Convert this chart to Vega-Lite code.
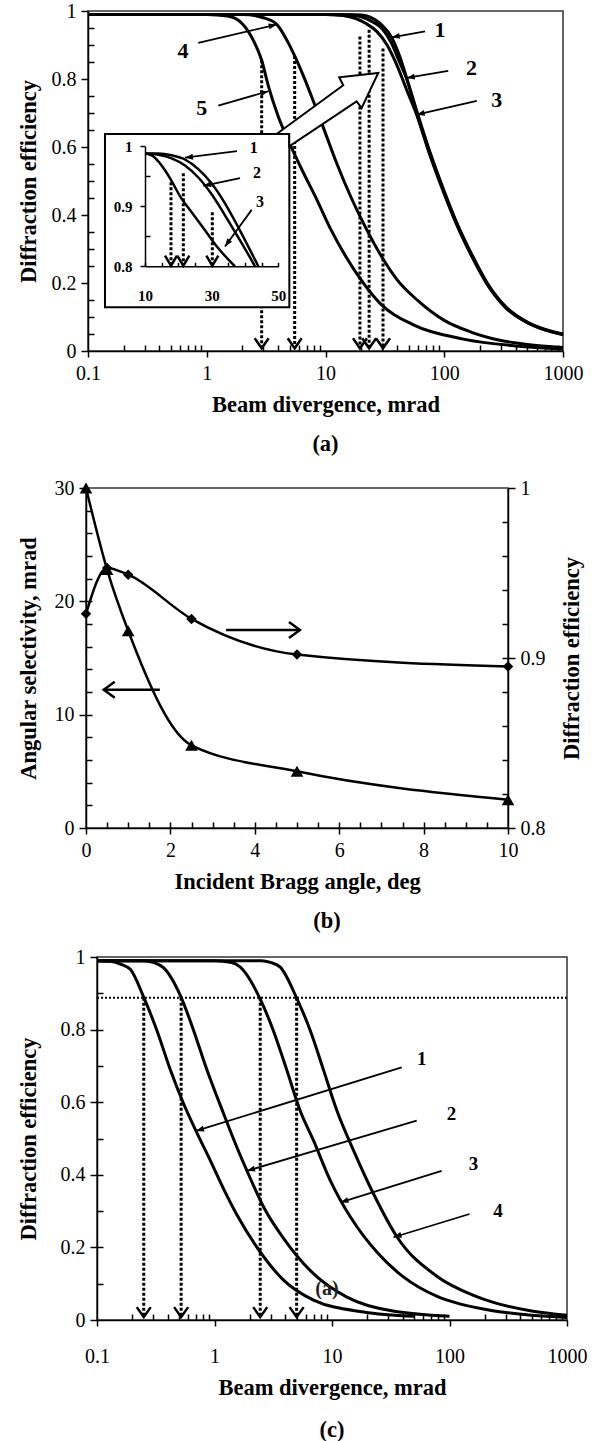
{
  "$schema": "https://vega.github.io/schema/vega-lite/v6.json",
  "padding": {"left": 9, "top": 0, "right": 5, "bottom": 5},
  "spacing": 10,
  "config": {
    "font": "Liberation Serif",
    "view": {"stroke": "#333", "strokeWidth": 1.5},
    "axis": {"labelFont": "Liberation Serif", "labelFontSize": 20, "labelColor": "black", "titleFont": "Liberation Serif", "titleFontSize": 22.5, "titleFontWeight": "bold", "titleColor": "black", "domainColor": "black", "domainWidth": 1.5, "tickColor": "black", "tickWidth": 1.5, "grid": false, "labelFlush": false, "labelOverlap": false},
    "title": {"font": "Liberation Serif", "fontSize": 22.5, "fontWeight": "bold", "color": "black"}
  },
  "datasets": {
    "a_curves": [
      {"c":"1","x":0.1,"y":0.99},{"c":"1","x":10,"y":0.99},{"c":"1","x":18,"y":0.989},{"c":"1","x":22,"y":0.986},{"c":"1","x":26,"y":0.975},{"c":"1","x":30,"y":0.958},{"c":"1","x":36,"y":0.923},{"c":"1","x":42,"y":0.868},{"c":"1","x":50,"y":0.785},{"c":"1","x":60,"y":0.695},{"c":"1","x":75,"y":0.59},{"c":"1","x":100,"y":0.47},{"c":"1","x":130,"y":0.37},{"c":"1","x":170,"y":0.285},{"c":"1","x":230,"y":0.2},{"c":"1","x":330,"y":0.13},{"c":"1","x":500,"y":0.085},{"c":"1","x":700,"y":0.064},{"c":"1","x":1000,"y":0.05},
      {"c":"2","x":0.1,"y":0.99},{"c":"2","x":10,"y":0.99},{"c":"2","x":16,"y":0.988},{"c":"2","x":20,"y":0.983},{"c":"2","x":25,"y":0.968},{"c":"2","x":30,"y":0.948},{"c":"2","x":36,"y":0.905},{"c":"2","x":42,"y":0.85},{"c":"2","x":48.3,"y":0.8},{"c":"2","x":58,"y":0.705},{"c":"2","x":75,"y":0.585},{"c":"2","x":100,"y":0.465},{"c":"2","x":130,"y":0.367},{"c":"2","x":170,"y":0.282},{"c":"2","x":230,"y":0.198},{"c":"2","x":330,"y":0.128},{"c":"2","x":500,"y":0.084},{"c":"2","x":700,"y":0.063},{"c":"2","x":1000,"y":0.049},
      {"c":"3","x":0.1,"y":0.99},{"c":"3","x":10,"y":0.99},{"c":"3","x":14,"y":0.987},{"c":"3","x":18,"y":0.978},{"c":"3","x":22,"y":0.963},{"c":"3","x":27,"y":0.94},{"c":"3","x":33,"y":0.9},{"c":"3","x":40,"y":0.84},{"c":"3","x":48,"y":0.77},{"c":"3","x":58.6,"y":0.695},{"c":"3","x":75,"y":0.58},{"c":"3","x":100,"y":0.462},{"c":"3","x":130,"y":0.364},{"c":"3","x":170,"y":0.279},{"c":"3","x":230,"y":0.196},{"c":"3","x":330,"y":0.127},{"c":"3","x":500,"y":0.083},{"c":"3","x":700,"y":0.062},{"c":"3","x":1000,"y":0.048},
      {"c":"4","x":0.1,"y":0.99},{"c":"4","x":2,"y":0.99},{"c":"4","x":3,"y":0.98},{"c":"4","x":3.9,"y":0.96},{"c":"4","x":4.8,"y":0.91},{"c":"4","x":5.5,"y":0.868},{"c":"4","x":6.5,"y":0.81},{"c":"4","x":8,"y":0.73},{"c":"4","x":10,"y":0.64},{"c":"4","x":12.5,"y":0.55},{"c":"4","x":16.5,"y":0.45},{"c":"4","x":22,"y":0.36},{"c":"4","x":30,"y":0.275},{"c":"4","x":40,"y":0.21},{"c":"4","x":60,"y":0.148},{"c":"4","x":100,"y":0.09},{"c":"4","x":170,"y":0.055},{"c":"4","x":300,"y":0.031},{"c":"4","x":500,"y":0.019},{"c":"4","x":1000,"y":0.01},
      {"c":"5","x":0.1,"y":0.99},{"c":"5","x":1,"y":0.99},{"c":"5","x":1.5,"y":0.985},{"c":"5","x":2,"y":0.962},{"c":"5","x":2.5,"y":0.91},{"c":"5","x":2.9,"y":0.855},{"c":"5","x":3.3,"y":0.78},{"c":"5","x":4,"y":0.69},{"c":"5","x":5,"y":0.61},{"c":"5","x":6.5,"y":0.525},{"c":"5","x":8.2,"y":0.455},{"c":"5","x":11,"y":0.36},{"c":"5","x":15,"y":0.275},{"c":"5","x":19.4,"y":0.215},{"c":"5","x":28.8,"y":0.14},{"c":"5","x":55,"y":0.077},{"c":"5","x":145,"y":0.035},{"c":"5","x":400,"y":0.015},{"c":"5","x":1000,"y":0.006}
    ],
    "a_dots": [{"x":2.9,"y":0.855,"y2":0.008},{"x":5.5,"y":0.868,"y2":0.008},{"x":19.5,"y":0.925,"y2":0.008},{"x":23.3,"y":0.945,"y2":0.008},{"x":30.5,"y":0.89,"y2":0.008}],
    "a_box": [{"x":0.139,"x2":4.96,"y":0.638,"y2":0.129}],
    "a_big": [{"x":27.8,"y":0.8176}],
    "a_arrows": [{"x":0.849,"y":0.906,"x2":3.88,"y2":0.96,"dir":-13.1},{"x":1.251,"y":0.7215,"x2":3.3,"y2":0.764,"dir":-16.1},{"x":68.9,"y":0.94,"x2":36.1,"y2":0.9226,"dir":169.8},{"x":108,"y":0.824,"x2":48.3,"y2":0.803,"dir":170},{"x":188,"y":0.736,"x2":58.6,"y2":0.695,"dir":166.9}],
    "a_labels": [{"t":"4","x":0.631,"y":0.882},{"t":"5","x":0.907,"y":0.715},{"t":"1","x":92.1,"y":0.945},{"t":"2","x":170,"y":0.832},{"t":"3","x":277,"y":0.739}],
    "i_curves": [
      {"c":"1","x":10,"y":0.988},{"c":"1","x":14,"y":0.988},{"c":"1","x":18,"y":0.985},{"c":"1","x":22,"y":0.978},{"c":"1","x":26,"y":0.962},{"c":"1","x":30,"y":0.938},{"c":"1","x":34,"y":0.905},{"c":"1","x":38,"y":0.865},{"c":"1","x":42,"y":0.822},{"c":"1","x":44,"y":0.8},
      {"c":"2","x":10,"y":0.988},{"c":"2","x":14,"y":0.986},{"c":"2","x":18,"y":0.98},{"c":"2","x":22,"y":0.968},{"c":"2","x":26,"y":0.948},{"c":"2","x":30,"y":0.92},{"c":"2","x":34,"y":0.885},{"c":"2","x":38,"y":0.848},{"c":"2","x":42,"y":0.81},{"c":"2","x":43,"y":0.8},
      {"c":"3","x":10,"y":0.988},{"c":"3","x":12,"y":0.985},{"c":"3","x":14,"y":0.975},{"c":"3","x":16,"y":0.96},{"c":"3","x":18,"y":0.942},{"c":"3","x":20.5,"y":0.917},{"c":"3","x":24,"y":0.89},{"c":"3","x":28,"y":0.86},{"c":"3","x":32,"y":0.83},{"c":"3","x":37,"y":0.8}
    ],
    "i_dots": [{"x":17.8,"y":0.94,"y2":0.801},{"x":21.5,"y":0.955,"y2":0.801},{"x":30.2,"y":0.89,"y2":0.801}],
    "i_arrows": [{"x":37.6,"y":0.992,"x2":22,"y2":0.981,"dir":172.6},{"x":38.5,"y":0.947,"x2":27.5,"y2":0.934,"dir":167.3},{"x":42,"y":0.894,"x2":34,"y2":0.833,"dir":126.1}],
    "i_labels": [{"t":"1","x":42.6,"y":0.998},{"t":"2","x":43.6,"y":0.955},{"t":"3","x":44.5,"y":0.908}],
    "b_sel": [{"x":0,"y":30},{"x":0.5,"y":22.8},{"x":1,"y":17.4},{"x":2.5,"y":7.3},{"x":5,"y":5.0},{"x":10,"y":2.5}],
    "b_eff": [{"x":0,"y":0.926},{"x":0.5,"y":0.953},{"x":1,"y":0.949},{"x":2.5,"y":0.923},{"x":5,"y":0.902},{"x":10,"y":0.895}],
    "b_arrL": [{"x":1.75,"x2":0.42,"y":12.2}],
    "b_arrR": [{"x":3.32,"x2":5.07,"y":0.9165}],
    "c_curves": [
      {"c":"1","x":0.1,"y":0.99},{"c":"1","x":0.13,"y":0.988},{"c":"1","x":0.16,"y":0.98},{"c":"1","x":0.192,"y":0.966},{"c":"1","x":0.25,"y":0.889},{"c":"1","x":0.324,"y":0.797},{"c":"1","x":0.42,"y":0.69},{"c":"1","x":0.547,"y":0.595},{"c":"1","x":0.71,"y":0.515},{"c":"1","x":0.92,"y":0.44},{"c":"1","x":1.2,"y":0.36},{"c":"1","x":1.55,"y":0.29},{"c":"1","x":2.3,"y":0.2},{"c":"1","x":3.87,"y":0.11},{"c":"1","x":6.96,"y":0.055},{"c":"1","x":18.6,"y":0.022},{"c":"1","x":50,"y":0.01},
      {"c":"2","x":0.1,"y":0.99},{"c":"2","x":0.25,"y":0.99},{"c":"2","x":0.3,"y":0.985},{"c":"2","x":0.37,"y":0.97},{"c":"2","x":0.52,"y":0.889},{"c":"2","x":0.665,"y":0.797},{"c":"2","x":0.86,"y":0.69},{"c":"2","x":1.2,"y":0.567},{"c":"2","x":1.55,"y":0.476},{"c":"2","x":1.89,"y":0.411},{"c":"2","x":2.63,"y":0.31},{"c":"2","x":3.87,"y":0.225},{"c":"2","x":6.54,"y":0.136},{"c":"2","x":13.4,"y":0.063},{"c":"2","x":31.4,"y":0.026},{"c":"2","x":100,"y":0.01},
      {"c":"3","x":0.1,"y":0.99},{"c":"3","x":1,"y":0.99},{"c":"3","x":1.4,"y":0.985},{"c":"3","x":1.66,"y":0.972},{"c":"3","x":2.41,"y":0.889},{"c":"3","x":3.17,"y":0.797},{"c":"3","x":4.14,"y":0.687},{"c":"3","x":5.35,"y":0.577},{"c":"3","x":6.97,"y":0.494},{"c":"3","x":9.68,"y":0.384},{"c":"3","x":11.8,"y":0.33},{"c":"3","x":14.4,"y":0.283},{"c":"3","x":24.4,"y":0.185},{"c":"3","x":40,"y":0.12},{"c":"3","x":78.5,"y":0.065},{"c":"3","x":120,"y":0.045},{"c":"3","x":240,"y":0.025},{"c":"3","x":500,"y":0.013},{"c":"3","x":1000,"y":0.007},
      {"c":"4","x":0.1,"y":0.99},{"c":"4","x":2.5,"y":0.99},{"c":"4","x":3,"y":0.985},{"c":"4","x":3.63,"y":0.972},{"c":"4","x":4.97,"y":0.889},{"c":"4","x":6.54,"y":0.797},{"c":"4","x":8.5,"y":0.687},{"c":"4","x":11,"y":0.577},{"c":"4","x":15.3,"y":0.466},{"c":"4","x":22.6,"y":0.347},{"c":"4","x":35.9,"y":0.228},{"c":"4","x":78.5,"y":0.12},{"c":"4","x":160,"y":0.068},{"c":"4","x":240,"y":0.048},{"c":"4","x":500,"y":0.025},{"c":"4","x":1000,"y":0.013}
    ],
    "c_dots": [{"x":0.25,"y":0.888,"y2":0.008},{"x":0.52,"y":0.888,"y2":0.008},{"x":2.45,"y":0.888,"y2":0.008},{"x":5.0,"y":0.888,"y2":0.008}],
    "c_hline": [{"y":0.888}],
    "c_arrows": [{"x":39.2,"y":0.696,"x2":0.696,"y2":0.521,"dir":162.9},{"x":52.6,"y":0.549,"x2":1.89,"y2":0.411,"dir":163.6},{"x":85.7,"y":0.411,"x2":11.8,"y2":0.324,"dir":162.7},{"x":148,"y":0.292,"x2":33.4,"y2":0.228,"dir":163}],
    "c_labels": [{"t":"1","x":58,"y":0.719},{"t":"2","x":104,"y":0.567},{"t":"3","x":160,"y":0.43},{"t":"4","x":259,"y":0.301}],
    "c_note": [{"t":"(a)","x":9.06,"y":0.085}],
    "dummy": [{"x":1,"y":0.5}],
    "dummy_i": [{"x":20,"y":0.9}],
    "dummy_b": [{"x":1,"y":10}],
    "dummy_b2": [{"x":1,"y":0.9}],
    "spacer": [{"v":0}]
  },
  "vconcat": [
    {"spacing": 0, "hconcat": [
    {"width": 1, "height": 1, "view": {"stroke": null}, "data": {"name": "spacer"}, "mark": {"type": "point", "opacity": 0}, "encoding": {}},
    {
      "width": 475, "height": 340,
      "title": {"text": ["(a)", ""], "orient": "bottom", "frame": "group", "offset": 17, "lineHeight": 11},
      "layer": [
        {
          "layer": [
            {
              "data": {"name": "a_curves"},
              "mark": {"type": "line", "color": "black", "strokeWidth": 3, "interpolate": "monotone"},
              "encoding": {
                "x": {"field": "x", "type": "quantitative", "scale": {"type": "log", "domain": [0.1, 1000]},
                      "axis": {"orient": "bottom", "values": [0.1, 1, 10, 100, 1000], "labelExpr": "'' + datum.value", "tickSize": 6, "labelPadding": 6, "title": "Beam divergence, mrad", "titlePadding": 10}},
                "y": {"field": "y", "type": "quantitative", "scale": {"domain": [0, 1]},
                      "axis": {"orient": "left", "values": [0, 0.2, 0.4, 0.6, 0.8, 1], "labelExpr": "'' + datum.value", "tickSize": 7, "labelPadding": 5, "title": "Diffraction efficiency", "titlePadding": 11}},
                "detail": {"field": "c", "type": "nominal"}
              }
            },
            {
              "data": {"name": "a_dots"},
              "mark": {"type": "rule", "color": "black", "strokeWidth": 3, "strokeDash": [3, 2]},
              "encoding": {
                "x": {"field": "x", "type": "quantitative", "scale": {"type": "log", "domain": [0.1, 1000]}, "axis": null},
                "y": {"field": "y", "type": "quantitative", "scale": {"domain": [0, 1]}, "axis": null},
                "y2": {"field": "y2"}
              }
            },
            {
              "data": {"name": "a_dots"},
              "mark": {"type": "point", "shape": "M-0.7,-1L0,0L0.7,-1", "size": 400, "filled": false, "stroke": "black", "strokeWidth": 2.5, "opacity": 1},
              "encoding": {
                "x": {"field": "x", "type": "quantitative", "scale": {"type": "log", "domain": [0.1, 1000]}, "axis": null},
                "y": {"field": "y2", "type": "quantitative", "scale": {"domain": [0, 1]}, "axis": null}
              }
            },
            {
              "data": {"name": "a_box"},
              "mark": {"type": "rect", "fill": "white", "stroke": "black", "strokeWidth": 2},
              "encoding": {
                "x": {"field": "x", "type": "quantitative", "scale": {"type": "log", "domain": [0.1, 1000]}, "axis": null},
                "x2": {"field": "x2"},
                "y": {"field": "y", "type": "quantitative", "scale": {"domain": [0, 1]}, "axis": null},
                "y2": {"field": "y2"}
              }
            },
            {
              "data": {"name": "a_big"},
              "mark": {"type": "point", "shape": "M-10.16,6.1L-3.5,1.23L-3.9,0.43L0,0L-1.66,3.5L-2.16,2.83L-8.9,7.33L-8.9,6.1Z", "size": 400, "filled": true, "fill": "white", "stroke": "black", "strokeWidth": 2, "opacity": 1},
              "encoding": {
                "x": {"field": "x", "type": "quantitative", "scale": {"type": "log", "domain": [0.1, 1000]}, "axis": null},
                "y": {"field": "y", "type": "quantitative", "scale": {"domain": [0, 1]}, "axis": null}
              }
            },
            {
              "data": {"name": "a_arrows"},
              "mark": {"type": "rule", "color": "black", "strokeWidth": 1.8},
              "encoding": {
                "x": {"field": "x", "type": "quantitative", "scale": {"type": "log", "domain": [0.1, 1000]}, "axis": null},
                "y": {"field": "y", "type": "quantitative", "scale": {"domain": [0, 1]}, "axis": null},
                "x2": {"field": "x2"},
                "y2": {"field": "y2"}
              }
            },
            {
              "data": {"name": "a_arrows"},
              "mark": {"type": "point", "shape": "M0,0L-2,-0.75L-2,0.75Z", "size": 64, "filled": true, "color": "black", "opacity": 1},
              "encoding": {
                "x": {"field": "x2", "type": "quantitative", "scale": {"type": "log", "domain": [0.1, 1000]}, "axis": null},
                "y": {"field": "y2", "type": "quantitative", "scale": {"domain": [0, 1]}, "axis": null},
                "angle": {"field": "dir", "type": "quantitative", "scale": null}
              }
            },
            {
              "data": {"name": "a_labels"},
              "mark": {"type": "text", "font": "Liberation Serif", "fontSize": 22, "fontWeight": "bold", "color": "black", "align": "center", "baseline": "middle"},
              "encoding": {
                "x": {"field": "x", "type": "quantitative", "scale": {"type": "log", "domain": [0.1, 1000]}, "axis": null},
                "y": {"field": "y", "type": "quantitative", "scale": {"domain": [0, 1]}, "axis": null},
                "text": {"field": "t"}
              }
            },
            {
              "data": {"name": "dummy"},
              "mark": {"type": "point", "opacity": 0},
              "encoding": {
                "x": {"field": "x", "type": "quantitative", "scale": {"type": "log", "domain": [0.1, 1000]},
                      "axis": {"orient": "bottom", "values": [0.2,0.3,0.4,0.5,0.6,0.7,0.8,0.9,2,3,4,5,6,7,8,9,20,30,40,50,60,70,80,90,200,300,400,500,600,700,800,900], "labels": false, "domain": false, "tickSize": -6, "title": null}},
                "y": {"field": "y", "type": "quantitative", "scale": {"domain": [0, 1]},
                      "axis": {"orient": "left", "values": [0.05,0.1,0.15,0.25,0.3,0.35,0.45,0.5,0.55,0.65,0.7,0.75,0.85,0.9,0.95], "labels": false, "domain": false, "tickSize": -6, "title": null}}
              }
            }
          ],
          "resolve": {"axis": {"x": "independent", "y": "independent"}}
        },
        {
          "layer": [
            {
              "data": {"name": "i_curves"},
              "mark": {"type": "line", "color": "black", "strokeWidth": 2.5, "interpolate": "monotone"},
              "encoding": {
                "x": {"field": "x", "type": "quantitative", "scale": {"domain": [10, 50], "range": [57, 190.3], "nice": false, "zero": false},
                      "axis": {"orient": "bottom", "offset": -84.7, "values": [10,15,20,25,30,35,40,45,50], "labelExpr": "datum.value % 20 == 10 ? '' + datum.value : ''", "tickSize": -4, "labelPadding": 26, "labelFontSize": 15, "labelFontWeight": "bold", "title": null, "zindex": 1}},
                "y": {"field": "y", "type": "quantitative", "scale": {"domain": [0.8, 1], "range": [255.3, 135.3], "nice": false, "zero": false},
                      "axis": {"orient": "left", "offset": -57, "values": [0.8, 0.9, 1], "labelExpr": "'' + datum.value", "tickSize": 5, "labelPadding": 8, "labelFontSize": 15, "labelFontWeight": "bold", "title": null, "zindex": 1}},
                "detail": {"field": "c", "type": "nominal"}
              }
            },
            {
              "data": {"name": "i_dots"},
              "mark": {"type": "rule", "color": "black", "strokeWidth": 3, "strokeDash": [3, 2]},
              "encoding": {
                "x": {"field": "x", "type": "quantitative", "scale": {"domain": [10, 50], "range": [57, 190.3], "nice": false, "zero": false}, "axis": null},
                "y": {"field": "y", "type": "quantitative", "scale": {"domain": [0.8, 1], "range": [255.3, 135.3], "nice": false, "zero": false}, "axis": null},
                "y2": {"field": "y2"}
              }
            },
            {
              "data": {"name": "i_dots"},
              "mark": {"type": "point", "shape": "M-0.6,-1L0,0L0.6,-1", "size": 400, "filled": false, "stroke": "black", "strokeWidth": 2.5, "opacity": 1},
              "encoding": {
                "x": {"field": "x", "type": "quantitative", "scale": {"domain": [10, 50], "range": [57, 190.3], "nice": false, "zero": false}, "axis": null},
                "y": {"field": "y2", "type": "quantitative", "scale": {"domain": [0.8, 1], "range": [255.3, 135.3], "nice": false, "zero": false}, "axis": null}
              }
            },
            {
              "data": {"name": "i_arrows"},
              "mark": {"type": "rule", "color": "black", "strokeWidth": 1.8},
              "encoding": {
                "x": {"field": "x", "type": "quantitative", "scale": {"domain": [10, 50], "range": [57, 190.3], "nice": false, "zero": false}, "axis": null},
                "y": {"field": "y", "type": "quantitative", "scale": {"domain": [0.8, 1], "range": [255.3, 135.3], "nice": false, "zero": false}, "axis": null},
                "x2": {"field": "x2"},
                "y2": {"field": "y2"}
              }
            },
            {
              "data": {"name": "i_arrows"},
              "mark": {"type": "point", "shape": "M0,0L-2,-0.75L-2,0.75Z", "size": 64, "filled": true, "color": "black", "opacity": 1},
              "encoding": {
                "x": {"field": "x2", "type": "quantitative", "scale": {"domain": [10, 50], "range": [57, 190.3], "nice": false, "zero": false}, "axis": null},
                "y": {"field": "y2", "type": "quantitative", "scale": {"domain": [0.8, 1], "range": [255.3, 135.3], "nice": false, "zero": false}, "axis": null},
                "angle": {"field": "dir", "type": "quantitative", "scale": null}
              }
            },
            {
              "data": {"name": "i_labels"},
              "mark": {"type": "text", "font": "Liberation Serif", "fontSize": 16, "fontWeight": "bold", "color": "black", "align": "center", "baseline": "middle"},
              "encoding": {
                "x": {"field": "x", "type": "quantitative", "scale": {"domain": [10, 50], "range": [57, 190.3], "nice": false, "zero": false}, "axis": null},
                "y": {"field": "y", "type": "quantitative", "scale": {"domain": [0.8, 1], "range": [255.3, 135.3], "nice": false, "zero": false}, "axis": null},
                "text": {"field": "t"}
              }
            },
            {
              "data": {"name": "dummy_i"},
              "mark": {"type": "point", "opacity": 0},
              "encoding": {
                "x": {"field": "x", "type": "quantitative", "scale": {"domain": [10, 50], "range": [57, 190.3], "nice": false, "zero": false}, "axis": null},
                "y": {"field": "y", "type": "quantitative", "scale": {"domain": [0.8, 1], "range": [255.3, 135.3], "nice": false, "zero": false},
                      "axis": {"orient": "left", "offset": -57, "values": [0.85, 0.95], "labels": false, "domain": false, "tickSize": -5, "title": null, "zindex": 1}}
              }
            }
          ],
          "resolve": {"axis": {"x": "independent", "y": "independent"}}
        }
      ],
      "resolve": {"scale": {"x": "independent", "y": "independent"}, "axis": {"x": "independent", "y": "independent"}}
    }
    ]},
    {"spacing": 0, "hconcat": [
    {"width": 1, "height": 1, "view": {"stroke": null}, "data": {"name": "spacer"}, "mark": {"type": "point", "opacity": 0}, "encoding": {}},
    {
      "width": 422, "height": 340,
      "title": {"text": ["(b)", ""], "orient": "bottom", "frame": "group", "offset": 17, "dx": 30, "lineHeight": 3},
      "layer": [
        {
          "layer": [
            {
              "data": {"name": "b_sel"},
              "mark": {"type": "line", "color": "black", "strokeWidth": 2.5, "interpolate": "monotone"},
              "encoding": {
                "x": {"field": "x", "type": "quantitative", "scale": {"domain": [0, 10]},
                      "axis": {"orient": "bottom", "values": [0, 2, 4, 6, 8, 10], "tickSize": 6, "labelPadding": 6, "title": "Incident Bragg angle, deg", "titlePadding": 10}},
                "y": {"field": "y", "type": "quantitative", "scale": {"domain": [0, 30]},
                      "axis": {"orient": "left", "values": [0, 10, 20, 30], "tickSize": 7, "labelPadding": 5, "title": "Angular selectivity, mrad", "titlePadding": 14}}
              }
            },
            {
              "data": {"name": "b_sel"},
              "mark": {"type": "point", "shape": "triangle-up", "size": 160, "filled": true, "color": "black", "opacity": 1},
              "encoding": {
                "x": {"field": "x", "type": "quantitative", "scale": {"domain": [0, 10]}, "axis": null},
                "y": {"field": "y", "type": "quantitative", "scale": {"domain": [0, 30]}, "axis": null}
              }
            },
            {
              "data": {"name": "b_arrL"},
              "mark": {"type": "rule", "color": "black", "strokeWidth": 2.5},
              "encoding": {
                "x": {"field": "x", "type": "quantitative", "scale": {"domain": [0, 10]}, "axis": null},
                "x2": {"field": "x2"},
                "y": {"field": "y", "type": "quantitative", "scale": {"domain": [0, 30]}, "axis": null}
              }
            },
            {
              "data": {"name": "b_arrL"},
              "mark": {"type": "point", "shape": "M-1.1,-0.8L0,0L-1.1,0.8", "angle": 180, "size": 400, "filled": false, "stroke": "black", "strokeWidth": 2.5, "opacity": 1},
              "encoding": {
                "x": {"field": "x2", "type": "quantitative", "scale": {"domain": [0, 10]}, "axis": null},
                "y": {"field": "y", "type": "quantitative", "scale": {"domain": [0, 30]}, "axis": null}
              }
            },
            {
              "data": {"name": "dummy_b"},
              "mark": {"type": "point", "opacity": 0},
              "encoding": {
                "x": {"field": "x", "type": "quantitative", "scale": {"domain": [0, 10]},
                      "axis": {"orient": "bottom", "values": [0.5,1,1.5,2,2.5,3,3.5,4,4.5,5,5.5,6,6.5,7,7.5,8,8.5,9,9.5], "labels": false, "domain": false, "tickSize": -6, "title": null}},
                "y": {"field": "y", "type": "quantitative", "scale": {"domain": [0, 30]},
                      "axis": {"orient": "left", "values": [2,4,6,8,10,12,14,16,18,20,22,24,26,28], "labels": false, "domain": false, "tickSize": -6, "title": null}}
              }
            }
          ],
          "resolve": {"axis": {"x": "independent", "y": "independent"}}
        },
        {
          "layer": [
            {
              "data": {"name": "b_eff"},
              "mark": {"type": "line", "color": "black", "strokeWidth": 2.5, "interpolate": "monotone"},
              "encoding": {
                "x": {"field": "x", "type": "quantitative", "scale": {"domain": [0, 10]}, "axis": null},
                "y": {"field": "y", "type": "quantitative", "scale": {"domain": [0.8, 1], "zero": false},
                      "axis": {"orient": "right", "values": [0.8, 0.9, 1], "labelExpr": "'' + datum.value", "tickSize": 7, "labelPadding": 5, "title": "Diffraction efficiency", "titleAngle": 270, "titleBaseline": "top", "titlePadding": 15}}
              }
            },
            {
              "data": {"name": "b_eff"},
              "mark": {"type": "point", "shape": "diamond", "size": 110, "filled": true, "color": "black", "opacity": 1},
              "encoding": {
                "x": {"field": "x", "type": "quantitative", "scale": {"domain": [0, 10]}, "axis": null},
                "y": {"field": "y", "type": "quantitative", "scale": {"domain": [0.8, 1], "zero": false}, "axis": null}
              }
            },
            {
              "data": {"name": "b_arrR"},
              "mark": {"type": "rule", "color": "black", "strokeWidth": 2.5},
              "encoding": {
                "x": {"field": "x", "type": "quantitative", "scale": {"domain": [0, 10]}, "axis": null},
                "x2": {"field": "x2"},
                "y": {"field": "y", "type": "quantitative", "scale": {"domain": [0.8, 1], "zero": false}, "axis": null}
              }
            },
            {
              "data": {"name": "b_arrR"},
              "mark": {"type": "point", "shape": "M-1.1,-0.8L0,0L-1.1,0.8", "size": 400, "filled": false, "stroke": "black", "strokeWidth": 2.5, "opacity": 1},
              "encoding": {
                "x": {"field": "x2", "type": "quantitative", "scale": {"domain": [0, 10]}, "axis": null},
                "y": {"field": "y", "type": "quantitative", "scale": {"domain": [0.8, 1], "zero": false}, "axis": null}
              }
            },
            {
              "data": {"name": "dummy_b2"},
              "mark": {"type": "point", "opacity": 0},
              "encoding": {
                "x": {"field": "x", "type": "quantitative", "scale": {"domain": [0, 10]}, "axis": null},
                "y": {"field": "y", "type": "quantitative", "scale": {"domain": [0.8, 1], "zero": false},
                      "axis": {"orient": "right", "values": [0.82,0.84,0.86,0.88,0.9,0.92,0.94,0.96,0.98], "labels": false, "domain": false, "tickSize": -6, "title": null}}
              }
            }
          ],
          "resolve": {"axis": {"y": "independent"}}
        }
      ],
      "resolve": {"scale": {"y": "independent"}, "axis": {"x": "independent", "y": "independent"}}
    }
    ]},
    {"spacing": 0, "hconcat": [
    {"width": 1, "height": 1, "view": {"stroke": null}, "data": {"name": "spacer"}, "mark": {"type": "point", "opacity": 0}, "encoding": {}},
    {
      "width": 470, "height": 363,
      "title": {"text": "(c)", "orient": "bottom", "frame": "group", "offset": 20},
      "layer": [
        {
          "data": {"name": "c_curves"},
          "mark": {"type": "line", "color": "black", "strokeWidth": 3, "interpolate": "monotone"},
          "encoding": {
            "x": {"field": "x", "type": "quantitative", "scale": {"type": "log", "domain": [0.1, 1000]},
                  "axis": {"orient": "bottom", "values": [0.1, 1, 10, 100, 1000], "labelExpr": "'' + datum.value", "tickSize": 6, "labelPadding": 20, "title": "Beam divergence, mrad", "titlePadding": 10}},
            "y": {"field": "y", "type": "quantitative", "scale": {"domain": [0, 1]},
                  "axis": {"orient": "left", "values": [0, 0.2, 0.4, 0.6, 0.8, 1], "labelExpr": "'' + datum.value", "tickSize": 7, "labelPadding": 5, "title": "Diffraction efficiency", "titlePadding": 20}},
            "detail": {"field": "c", "type": "nominal"}
          }
        },
        {
          "data": {"name": "c_hline"},
          "mark": {"type": "rule", "color": "black", "strokeWidth": 2, "strokeDash": [2, 2]},
          "encoding": {
            "y": {"field": "y", "type": "quantitative", "scale": {"domain": [0, 1]}, "axis": null}
          }
        },
        {
          "data": {"name": "c_dots"},
          "mark": {"type": "rule", "color": "black", "strokeWidth": 3, "strokeDash": [3, 2]},
          "encoding": {
            "x": {"field": "x", "type": "quantitative", "scale": {"type": "log", "domain": [0.1, 1000]}, "axis": null},
            "y": {"field": "y", "type": "quantitative", "scale": {"domain": [0, 1]}, "axis": null},
            "y2": {"field": "y2"}
          }
        },
        {
          "data": {"name": "c_dots"},
          "mark": {"type": "point", "shape": "M-0.7,-1L0,0L0.7,-1", "size": 400, "filled": false, "stroke": "black", "strokeWidth": 2.5, "opacity": 1},
          "encoding": {
            "x": {"field": "x", "type": "quantitative", "scale": {"type": "log", "domain": [0.1, 1000]}, "axis": null},
            "y": {"field": "y2", "type": "quantitative", "scale": {"domain": [0, 1]}, "axis": null}
          }
        },
        {
          "data": {"name": "c_arrows"},
          "mark": {"type": "rule", "color": "black", "strokeWidth": 1.8},
          "encoding": {
            "x": {"field": "x", "type": "quantitative", "scale": {"type": "log", "domain": [0.1, 1000]}, "axis": null},
            "y": {"field": "y", "type": "quantitative", "scale": {"domain": [0, 1]}, "axis": null},
            "x2": {"field": "x2"},
            "y2": {"field": "y2"}
          }
        },
        {
          "data": {"name": "c_arrows"},
          "mark": {"type": "point", "shape": "M0,0L-2,-0.75L-2,0.75Z", "size": 64, "filled": true, "color": "black", "opacity": 1},
          "encoding": {
            "x": {"field": "x2", "type": "quantitative", "scale": {"type": "log", "domain": [0.1, 1000]}, "axis": null},
            "y": {"field": "y2", "type": "quantitative", "scale": {"domain": [0, 1]}, "axis": null},
            "angle": {"field": "dir", "type": "quantitative", "scale": null}
          }
        },
        {
          "data": {"name": "c_labels"},
          "mark": {"type": "text", "font": "Liberation Serif", "fontSize": 19, "fontWeight": "bold", "color": "black", "align": "center", "baseline": "middle"},
          "encoding": {
            "x": {"field": "x", "type": "quantitative", "scale": {"type": "log", "domain": [0.1, 1000]}, "axis": null},
            "y": {"field": "y", "type": "quantitative", "scale": {"domain": [0, 1]}, "axis": null},
            "text": {"field": "t"}
          }
        },
        {
          "data": {"name": "c_note"},
          "mark": {"type": "text", "font": "Liberation Serif", "fontSize": 20, "fontWeight": "bold", "color": "#222", "align": "center", "baseline": "middle"},
          "encoding": {
            "x": {"field": "x", "type": "quantitative", "scale": {"type": "log", "domain": [0.1, 1000]}, "axis": null},
            "y": {"field": "y", "type": "quantitative", "scale": {"domain": [0, 1]}, "axis": null},
            "text": {"field": "t"}
          }
        },
        {
          "data": {"name": "dummy"},
          "mark": {"type": "point", "opacity": 0},
          "encoding": {
            "x": {"field": "x", "type": "quantitative", "scale": {"type": "log", "domain": [0.1, 1000]},
                  "axis": {"orient": "bottom", "values": [0.2,0.3,0.4,0.5,0.6,0.7,0.8,0.9,2,3,4,5,6,7,8,9,20,30,40,50,60,70,80,90,200,300,400,500,600,700,800,900], "labels": false, "domain": false, "tickSize": -6, "title": null}},
            "y": {"field": "y", "type": "quantitative", "scale": {"domain": [0, 1]},
                  "axis": {"orient": "left", "values": [0.1,0.2,0.3,0.4,0.5,0.6,0.7,0.8,0.9], "labels": false, "domain": false, "tickSize": -6, "title": null}}
          }
        }
      ],
      "resolve": {"axis": {"x": "independent", "y": "independent"}}
    }
    ]}
  ]
}
